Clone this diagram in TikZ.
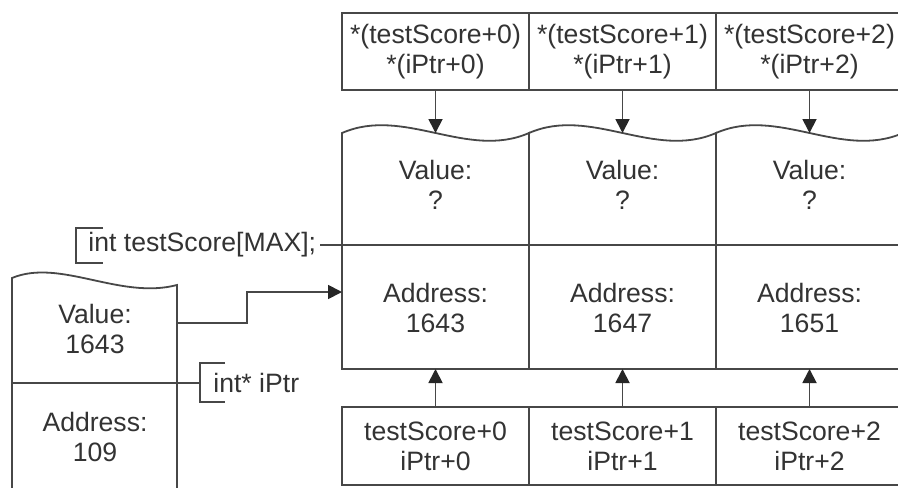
\documentclass[tikz,border=0pt]{standalone}
\usepackage{fontspec}
\setmainfont{Liberation Sans}
\usetikzlibrary{arrows.meta}
\begin{document}
\begin{tikzpicture}[x=0.5pt,y=-0.5pt,
  ln/.style={draw=black!72,line width=0.9pt},
  txt/.style={font=\fontsize{13.3}{15}\selectfont, text=black!80, align=center, inner sep=0pt},
  cellbox/.style={ln, txt, minimum width=93.5pt, minimum height=38.5pt},
  arr/.style={ln, -{Triangle[width=7pt,length=7pt,color=black!85]}}]
\useasboundingbox (0,0) rectangle (898,487);
\clip (0,0) rectangle (898,487);
\fill[white] (0,0) rectangle (898,487);

% top row: dereference expressions
\foreach \i [evaluate=\i as \xa using 342+187*\i] in {0,1,2} {
  \node[cellbox] (t\i) at (\xa+93.5,51.5) {*(testScore+\i)\\*(iPtr+\i)};
}

% array cells with wavy top
\foreach \i/\addr [evaluate=\i as \xa using 342+187*\i] in {0/1643,1/1647,2/1651} {
  \draw[ln] (\xa,133) .. controls +(62,-27) and +(-62,27) .. (\xa+187,133)
            -- (\xa+187,369) -- (\xa,369) -- cycle;
  \coordinate (w\i) at (\xa+93.5,133);
  \coordinate (m\i) at (\xa+93.5,369);
  \node[txt] (v\i) at (\xa+93.5,185) {Value:\\?};
  \node[txt] (a\i) at (\xa+93.5,308) {Address:\\\addr};
  \node[cellbox, minimum height=39pt] (b\i) at (\xa+93.5,446) {testScore+\i\\iPtr+\i};
  \draw[arr] (t\i.south) -- (w\i);
  \draw[arr] (b\i.north) -- (m\i);
}

% label of the array
\node[txt, anchor=west] (lbl1) at (88,245) {int testScore[MAX];};
\draw[ln] (103,228) -- (76,228) -- (76,263) -- (103,263);
\coordinate (rend) at (905,245);
\draw[ln] ([xshift=2pt]lbl1.east) -- (rend);

% pointer variable box
\draw[ln] (12,500) -- (12,278) .. controls (60,258) and (120,300) .. (177,285) -- (177,500);
\node[txt] (lv) at (95,329) {Value:\\1643};
\node[txt] (la) at (95,437) {Address:\\109};
\node[txt, anchor=west] (lbl2) at (213,383) {int* iPtr};
\draw[ln] (225,363) -- (200,363) -- (200,402) -- (225,402);
\coordinate (lbl) at (12,383);
\coordinate (lbr) at (200,383);
\draw[ln] (lbl) -- (lbr);

% pointer connector
\coordinate (lvo) at (177,323);
\coordinate (ain) at (342,292);
\draw[arr] (lvo) -- ++(70,0) |- (ain);
\end{tikzpicture}
\end{document}
